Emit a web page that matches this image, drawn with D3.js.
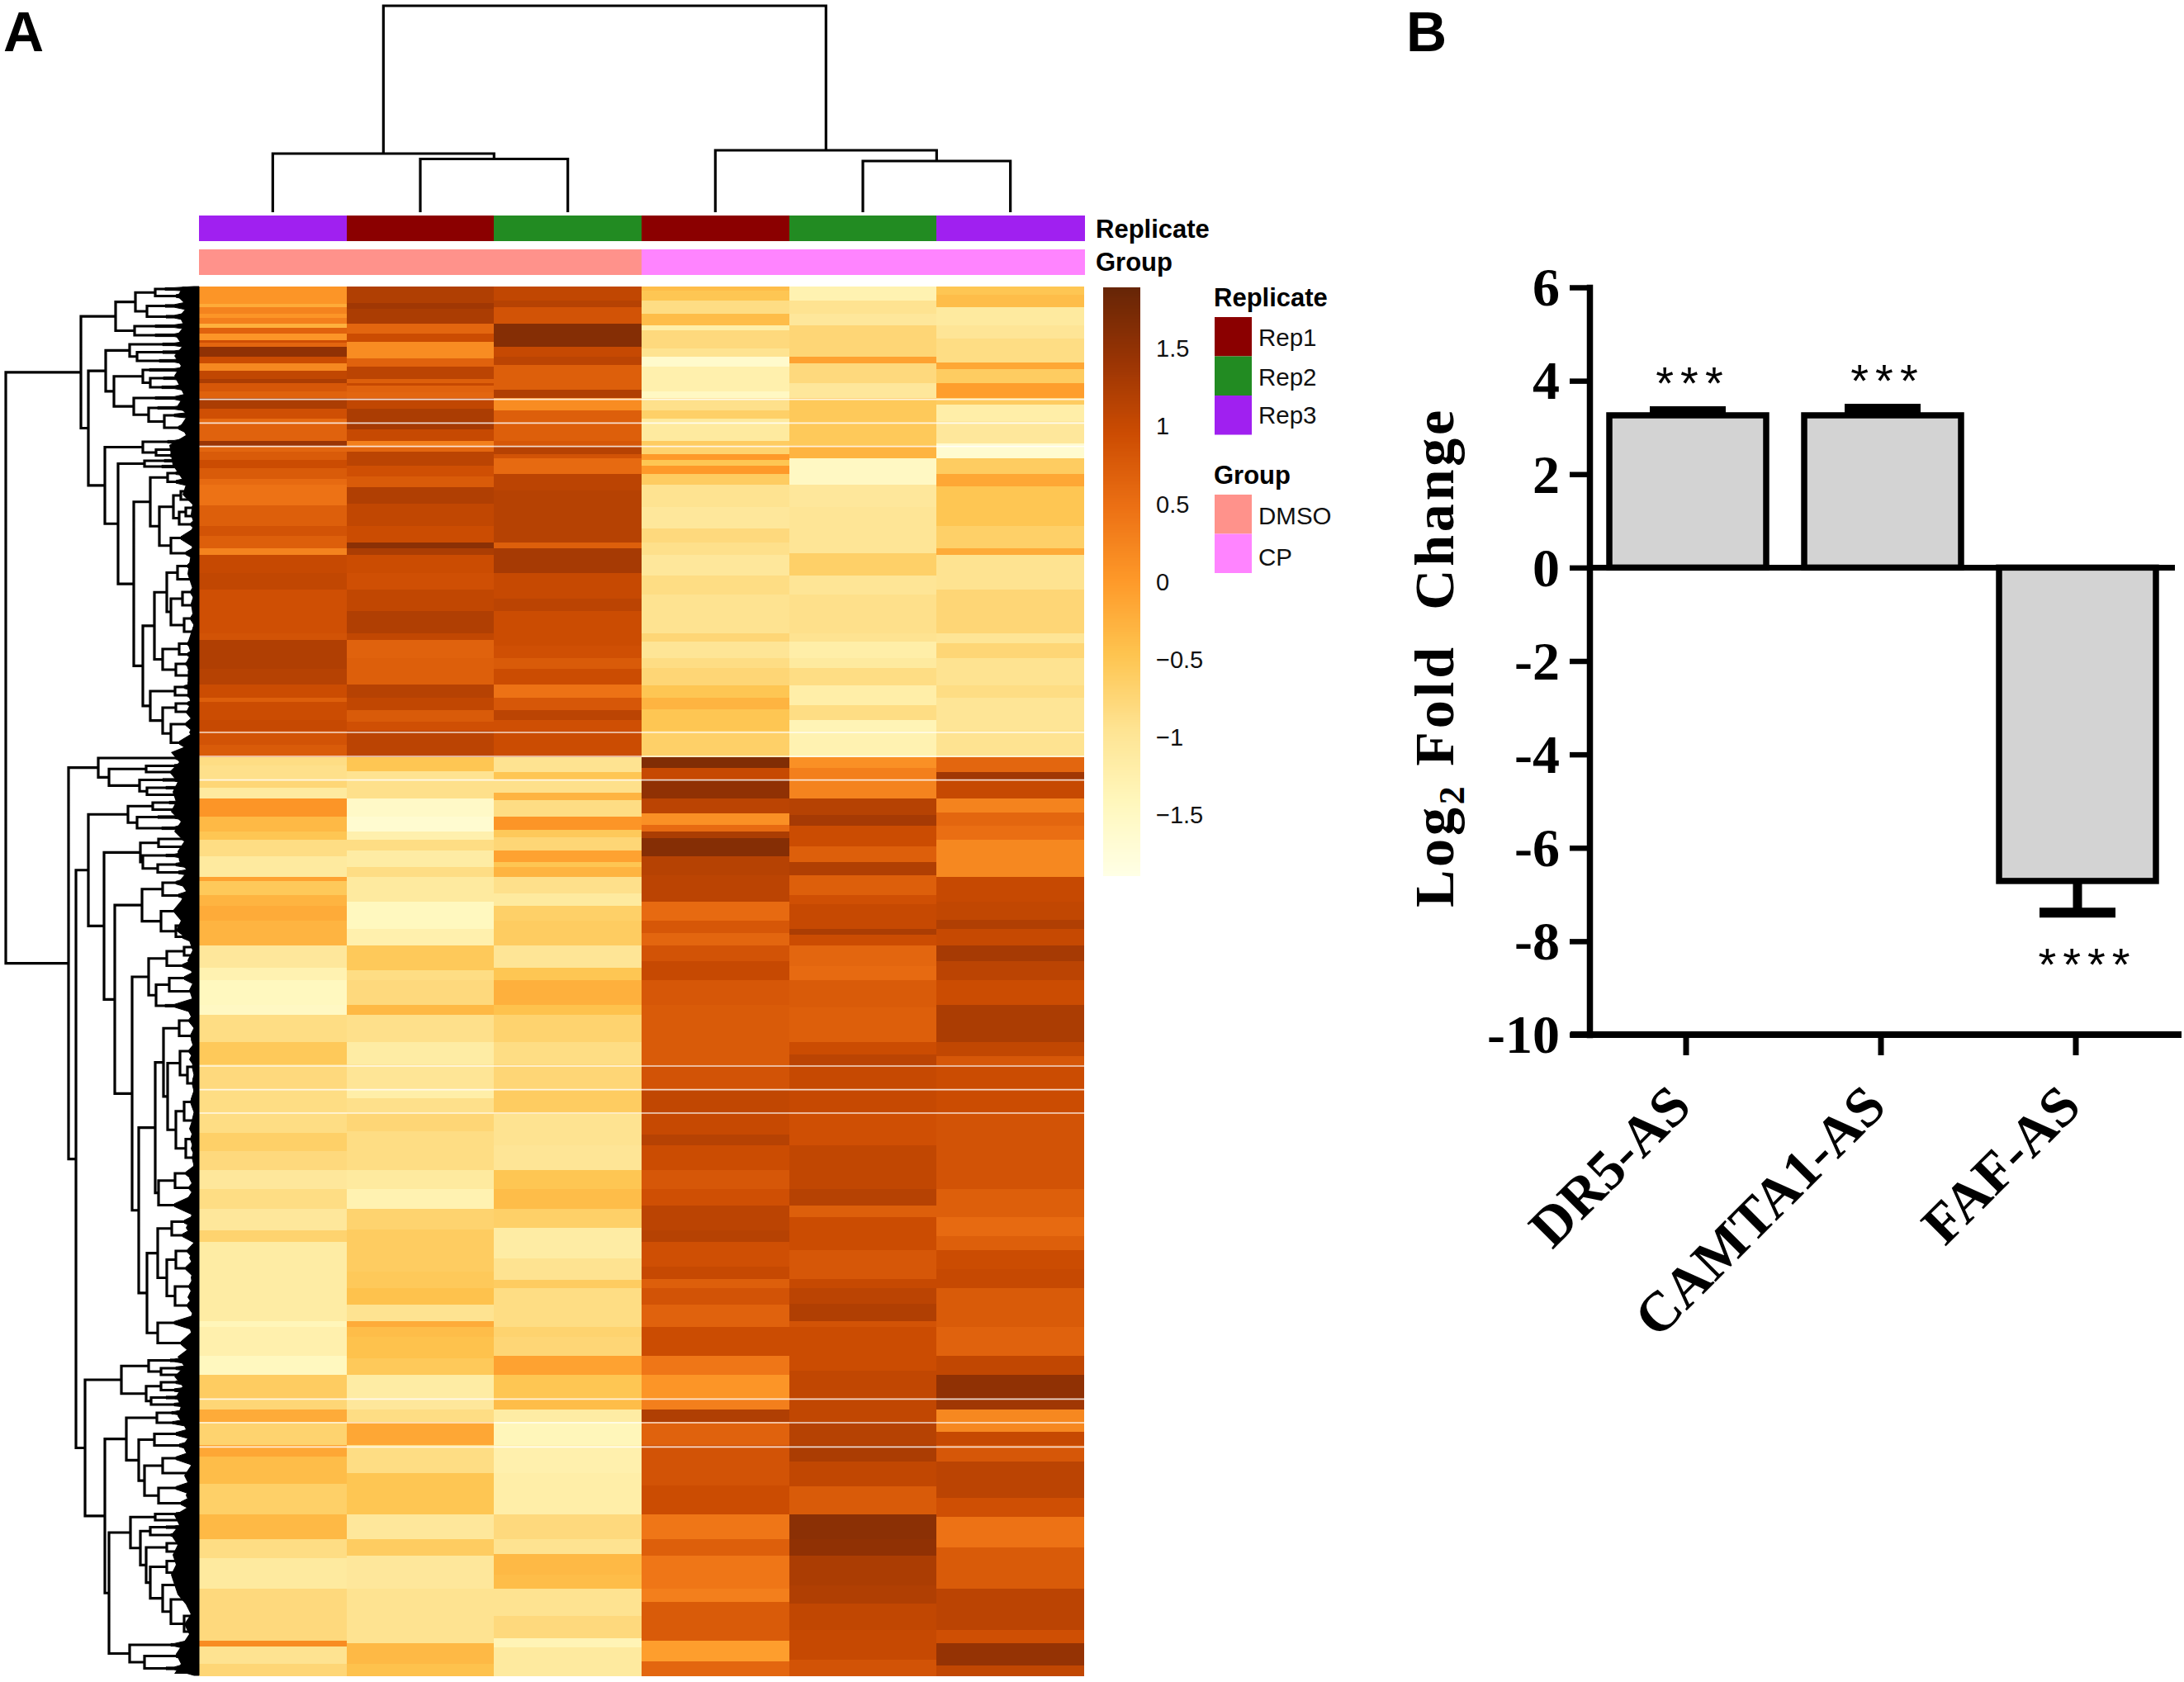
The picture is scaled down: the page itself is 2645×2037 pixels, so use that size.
<!DOCTYPE html>
<html>
<head>
<meta charset="utf-8">
<script src="https://cdn.jsdelivr.net/npm/d3@7"></script>
<style>
  body { margin: 0; background: #fff; }
  text { font-family: "Liberation Sans", Arial, sans-serif; }
  .serif text, text.serif { font-family: "Liberation Serif", "Times New Roman", serif; font-weight: bold; }
</style>
</head>
<body>
<div id="chart"></div>
<script>
// Panel A: columns of the heatmap
var columns = ["DMSO_Rep3", "DMSO_Rep1", "DMSO_Rep2", "CP_Rep1", "CP_Rep2", "CP_Rep3"];
var replicateOf = ["Rep3", "Rep1", "Rep2", "Rep1", "Rep2", "Rep3"];
var groupOf = ["DMSO", "DMSO", "DMSO", "CP", "CP", "CP"];
var replicates = ["Rep1", "Rep2", "Rep3"];
var replicateColors = ["#8B0000", "#228B22", "#A020F0"];
var groups = ["DMSO", "CP"];
var groupColors = ["#FF928B", "#FF84FF"];
var legendTicks = [1.5, 1, 0.5, 0, -0.5, -1, -1.5];
var heatDomain = [-1.89, -1.4175, -0.945, -0.4725, 0, 0.4725, 0.945, 1.4175, 1.89];
var heatColors = ["#FFFFE5", "#FFF7BC", "#FEE391", "#FEC44F", "#FE9929", "#EC7014", "#CC4C02", "#993404", "#662506"];

// Heatmap strips: [end of band, z score], one list per quarter of the rows
var blockStart = [0, 1260, 2520, 3780];
var totalRows = 5046;
var col1 = [
  [[62,.05],[75,-.2],[100,.25],[115,.05],[135,.3],[150,-.25],[170,.65],[195,.05],[205,.9],[220,.6],[255,1.5],[280,.95],[305,.2],[335,1.05],[352,1.25],[380,.8],[405,.65],[445,1.25],[480,.9],[495,.55],[560,.65],[580,1.4],[600,.6],[630,.75],[660,.95],[700,.75],[720,.55],[795,.45],[870,.7],[905,.85],[950,.7],[975,.25],[1040,1],[1100,1.05],[1260,.9]],
  [[25,.85],[90,1.2],[130,1.2],[185,1.15],[235,.95],[250,.7],[315,.95],[355,1],[405,.85],[450,.75],[480,-.85],[530,-.9],[560,-.75],[600,-1.1],[665,.05],[720,-.35],[750,-.5],[810,-.85],[885,-1.1],[900,-.1],[950,-.55],[990,-.3],[1045,-.2],[1135,-.3],[1215,-1.05],[1260,-1.3]],
  [[90,-1.45],[125,-1.5],[225,-.85],[305,-.55],[400,-.8],[480,-.85],[555,-.85],[620,-.65],[690,-.8],[760,-1.05],[830,-.85],[910,-1.05],[950,-.7],[1120,-1.15],[1240,-1.15],[1260,-1.4]],
  [[105,-1.25],[175,-1.45],[260,-.6],[300,-.75],[345,-.2],[430,-.7],[470,-.15],[570,-.4],[680,-.65],[770,-.35],[840,-.85],[950,-1.1],[1140,-.8],[1160,.15],[1225,-.95],[1266,-.75]]
];
var col2 = [
  [[60,1.2],[80,1.35],[135,1.25],[170,.6],[200,.95],[260,.15],[290,.65],[335,1.1],[352,.7],[360,1],[385,.65],[405,.6],[445,1.05],[490,1.25],[520,1.3],[560,1],[580,.3],[600,.6],[650,1.1],[690,.9],[730,.75],[790,1.2],[870,1.05],[930,.95],[950,1.55],[975,1.25],[1040,.95],[1100,.9],[1180,1.05],[1260,1.2]],
  [[25,1.05],[90,.65],[185,.7],[235,1.15],[280,1.05],[320,.75],[355,.9],[450,1.1],[500,-.5],[530,-.95],[600,-.9],[665,-1.55],[720,-1.65],[750,-1.25],[790,-.85],[850,-1.15],[885,-.85],[975,-1.1],[1075,-1.45],[1135,-1.25],[1225,-.55],[1260,-.85]],
  [[90,-.8],[125,-.35],[225,-.9],[305,-1.15],[400,-1],[430,-1.2],[480,-.9],[550,-.75],[690,-.85],[760,-1.1],[830,-1.3],[905,-.7],[1060,-.6],[1120,-.55],[1180,-.45],[1240,-.95],[1260,-.2]],
  [[35,-.4],[115,-.45],[175,-.55],[260,-1.15],[300,-1.05],[345,-.85],[430,-.15],[530,-.85],[680,-.5],[770,-1.05],[830,-.6],[950,-1.05],[1150,-.95],[1225,-.35],[1266,-.45]]
];
var col3 = [
  [[50,1.05],[75,1.15],[135,.85],[220,1.6],[255,1],[285,1.1],[375,.7],[405,1.2],[450,.15],[490,.7],[560,.7],[580,.8],[610,1.15],[625,.85],[680,.55],[740,1.1],[930,1.15],[950,.7],[1040,1.3],[1135,1],[1180,1.1],[1260,.95]],
  [[45,.95],[90,.9],[130,.75],[185,.95],[235,.45],[280,.8],[315,1.1],[355,.9],[450,.95],[505,-.95],[530,-.5],[580,-.9],[605,-.3],[665,-.85],[715,.05],[740,-.55],[790,-.75],[830,-.1],[850,-.5],[885,-.3],[945,-.9],[990,-1.1],[1045,-.65],[1135,-.6],[1215,-1],[1260,-.5]],
  [[90,-.25],[125,-.45],[225,-.7],[305,-.85],[400,-.75],[485,-.6],[600,-.95],[690,-1],[760,-.5],[830,-.4],[900,-.65],[1010,-1.15],[1090,-.95],[1120,-.6],[1260,-.85]],
  [[35,-.7],[105,-.75],[175,-.1],[260,-.5],[300,-.4],[345,-1.15],[430,-1.4],[530,-1.25],[680,-1.2],[770,-.8],[825,-.95],[900,-.35],[950,-.4],[1050,-.95],[1130,-.8],[1165,-1.35],[1266,-1.1]]
];
var col4 = [
  [[15,-.4],[50,-.5],[100,-.85],[140,-.4],[160,-1.2],[225,-.8],[255,-.95],[290,-1.6],[380,-1.25],[405,-1.5],[450,-.9],[480,-.65],[560,-1.1],[580,-.6],[610,-.7],[630,0],[650,-.5],[680,0],[720,-.6],[800,-.95],[880,-1.05],[930,-.8],[975,-.9],[1050,-1.05],[1120,-.85],[1260,-.95]],
  [[30,-.75],[90,-1],[125,-.85],[190,-.75],[235,-.5],[275,-.3],[315,-.5],[355,-.5],[450,-.65],[490,1.65],[530,1],[600,1.5],[655,1.1],[695,.1],[720,.55],[745,1.25],[810,1.6],[880,1.15],[975,1.1],[1045,.55],[1090,.8],[1135,.6],[1190,.85],[1260,1]],
  [[90,.8],[225,.75],[310,.75],[400,.85],[485,1.05],[560,1],[600,1.15],[690,.95],[760,.8],[820,.9],[910,1.1],[950,1.15],[1040,.9],[1085,1],[1120,.7],[1180,.85],[1260,.65]],
  [[105,.95],[175,.4],[260,.05],[300,.3],[345,1.2],[430,.65],[575,.85],[680,.95],[770,.4],[830,.7],[950,.4],[1000,.3],[1140,.75],[1215,-.05],[1266,.6]]
];
var col5 = [
  [[50,-1.3],[100,-.95],[140,-1.05],[180,-.75],[255,-.75],[280,-.1],[350,-.8],[405,-1.05],[490,-.55],[580,-.55],[625,-.3],[720,-1.5],[800,-1.05],[970,-1],[1050,-.65],[1120,-1],[1260,-.9]],
  [[30,-.95],[90,-1.2],[125,-1.1],[190,-.85],[260,-1.2],[315,-.85],[355,-1.35],[450,-1.3],[490,.1],[530,.3],[600,.25],[660,1.15],[700,1.3],[775,.95],[830,.7],[880,1.2],[950,.7],[985,.9],[1075,1],[1095,1.25],[1135,.95],[1210,.6],[1260,.55]],
  [[100,.75],[170,.7],[225,.7],[270,.95],[310,1.1],[400,1],[480,1],[600,.9],[690,1.05],[760,1.05],[820,1.15],[860,.7],[980,.95],[1085,.8],[1120,1],[1175,1.1],[1240,1.2],[1260,.85]],
  [[160,.95],[250,1.05],[345,1.05],[430,1.15],[490,1.25],[580,1.05],[680,.75],[770,1.55],[830,1.5],[940,1.25],[1005,1.2],[1100,1.05],[1210,1],[1266,.85]]
];
var col6 = [
  [[30,-.5],[75,-.4],[140,-1.1],[190,-1],[275,-.85],[300,-.15],[350,-.6],[405,-.05],[430,-.6],[490,-1.2],[570,-1.05],[625,-1.65],[680,-.6],[725,-.15],[870,-.5],[950,-.65],[975,-.2],[1100,-.95],[1260,-.75]],
  [[35,-1],[90,-.75],[190,-.95],[235,-.85],[350,-1],[450,-.95],[505,.6],[530,1.35],[600,1],[650,.25],[700,.6],[750,.5],[800,.2],[885,.2],[975,1],[1040,1.05],[1075,1.2],[1135,1],[1190,1.3],[1260,1.1]],
  [[90,.95],[175,1.25],[225,1.25],[275,1.05],[310,.8],[480,.95],[760,.85],[860,.7],[930,.55],[980,.7],[1050,.95],[1120,1],[1260,.75]],
  [[105,.65],[175,1.05],[260,1.5],[300,1.35],[380,.2],[430,1],[490,.8],[620,1.1],[690,.9],[800,.45],[950,.75],[1100,1.1],[1150,.9],[1230,1.45],[1266,1.05]]
];
var heatStrips = [col1, col2, col3, col4, col5, col6];
var blankRows = [410, 496, 581, 1620, 1707, 1793, 2832, 2918, 3003, 4042, 4128, 4216];

// Column dendrogram: [height, childA, childB], a leaf is [0, column index]
var colTree = [100,
  [28.4, [0, 0], [25.8, [0, 1], [0, 2]]],
  [30, [0, 3], [24.8, [0, 4], [0, 5]]]
];

// Row dendrogram: [height, childA, childB], a leaf cluster is [height, first row, last row]
var rowTreeA = [101,
  [77, [53, [41, 0, 6], [28, 6, 17]], [63, [41, 17, 30], [40, 30, 43]]],
  [78, [53, 43, 53], [53, 53, 65]]
];
var rowTreeB1 = [113,
  [84, [44, 65, 75], [75, [44, 75, 84], [48, 84, 96]]],
  [103,
    [68, [60, 96, 106], [59, [43, 106, 116], [45, 116, 128]]],
    [79, [53, 128, 142], [61, [50, 142, 152], [42, [30, 152, 160], [25, 160, 182]]]]
  ]
];
var rowTreeB2 = [114,
  [68, [38, 182, 194], [52, [32, 194, 201], [35, 201, 208]]],
  [98,
    [66, [42, 208, 214], [45, 214, 222]],
    [79,
      [59,
        [38, [28, 222, 230], [28, 230, 243]],
        [48,
          [31, [22, [12, 243, 253], [10, 253, 263]], [24, [16, [8, 263, 273], [8, 273, 283]], [10, 283, 293]]],
          [34, [22, 293, 316], [16, 316, 330]]
        ]
      ],
      [68,
        [54,
          [39, [26, [14, 330, 347], [10, 347, 362]], [34, [20, [10, 362, 378], [8, 378, 394]], [18, [10, 394, 410], [8, 410, 426]]]],
          [44, [24, [14, 426, 439], [14, 439, 452]], [28, [16, 452, 462], [12, [8, 462, 471], [6, 471, 480]]]]
        ],
        [59,
          [29, [18, 480, 490], [14, 490, 500]],
          [44, [28, [14, 500, 510], [12, 510, 520]], [34, [16, 520, 540], [24, 540, 565]]]
        ]
      ]
    ]
  ]
];
var rowTreeC = [122, [28, 565, 577],
  [109, [64, [30, 577, 584], [27, 584, 592]], [72, [44, 592, 603], [63, [40, 603, 611], [30, 611, 620]]]]
];
var rowTreeD1a = [86, [56, [36, 620, 630], [32, 630, 637]], [75, [50, 637, 648], [45, 648, 664]]];
var rowTreeD1b1 = [71, [49, [20, 664, 674], [14, 674, 683]], [68, [40, 683, 695], [50, [28, 695, 705], [25, 705, 714]]]];
var rowTreeE = [69,
  [44, [28, 714, 730], [25, 730, 745]],
  [46, [22, 745, 768], [28, [14, 768, 780], [20, 780, 795]]]
];
var rowTreeF1 = [61,
  [39, [18, [8, 795, 805], [6, 805, 815]], [20, 815, 830]],
  [52, [36, [18, 830, 845], [8, 845, 862]], [41, 862, 880]]
];
var rowTreeF2a = [53,
  [43,
    [24, [12, 880, 898], [10, 898, 917]],
    [38,
      [23, [12, 917, 935], [14, [8, 935, 955], [8, 955, 975]]],
      [28, [18, [10, 975, 1000], [8, 1000, 1020]], [16, [10, 1020, 1045], [8, 1045, 1065]]]
    ]
  ],
  [49, [29, [16, 1065, 1083], [12, 1083, 1100]], [30, 1100, 1125]]
];
var rowTreeF2b = [63,
  [50,
    [33, [18, 1125, 1140], [20, 1140, 1158]],
    [39, [28, [14, 1158, 1178], [16, 1178, 1200]], [29, [12, 1200, 1222], [14, 1222, 1246]]]
  ],
  [50, [30, 1246, 1264], [22, 1264, 1295]]
];
var rowTreeG = [94,
  [61, [35, 1295, 1306], [46, [28, 1306, 1314], [25, 1314, 1322]]],
  [64, [46, [28, 1322, 1332], [30, 1332, 1341]], [58, [40, 1341, 1350], [30, 1350, 1358]]]
];
var rowTreeH1 = [88,
  [51, [33, 1358, 1370], [32, 1370, 1382]],
  [73,
    [54, [28, 1382, 1397], [24, 1397, 1410]],
    [66, [44, [28, 1410, 1428], [14, 1428, 1446]], [49, [28, 1446, 1464], [22, 1464, 1483]]]
  ]
];
var rowTreeI = [83,
  [53, [28, 1483, 1490], [25, 1490, 1498]],
  [71,
    [59, [40, 1498, 1507], [34, 1507, 1517]],
    [64,
      [39, [20, 1517, 1527], [20, 1527, 1537]],
      [59, [39, [24, 1537, 1550], [18, 1550, 1565]], [44, [28, 1565, 1580], [34, [12, 1580, 1600], [18, [10, 1600, 1620], [10, 1620, 1638]]]]]
    ]
  ]
];
var rowTreeJ = [84, [34, 1638, 1652], [66, [28, 1652, 1665], [40, 1665, 1682]]];
var rowTree = [234,
  [143, rowTreeA, [134, rowTreeB1, rowTreeB2]],
  [158, rowTreeC,
    [149,
      [134, rowTreeD1a,
        [115, rowTreeD1b1,
          [102, rowTreeE,
            [81, [61, rowTreeF1[1], rowTreeF1[2]], [73, rowTreeF2a, rowTreeF2b]]
          ]
        ]
      ],
      [138, rowTreeG, [114, rowTreeH1, [109, rowTreeI, rowTreeJ]]]
    ]
  ]
];
// How far the solid black of the gene leaves reaches left, one value per 12 rows
var leafDepth = [20,26,14,24,18,28,20,30,22,30,24,18,26,14,22,16,36,34,32,24,16,20,
  8,10,6,12,8,10,12,14,10,6,10,8,6,10,14,10,16,12,14,14,10,16,6,12,4,
  34,24,36,26,32,28,34,22,30,18,26,24,14,24,16,22,32,22,28,
  12,8,14,10,6,12,8,14,8,4,10,6,12,4,8,6,10,4,8,12,6,10,4,8,
  12,6,14,8,10,16,8,4,12,6,10,8,14,6,10,12,8,10,
  26,18,30,20,28,22,26,18,12,20,14,10,18,12,16,10,
  30,24,34,26,32,28,34,30,26,16,10,18,12,20,28,22,30];

// Panel B
var genes = ["DR5-AS", "CAMTA1-AS", "FAF-AS"];
var foldChange = [3.26, 3.26, -6.71];
var errorEnd = [3.35, 3.40, -7.39];
var stars = ["***", "***", "****"];
var yTicks = [6, 4, 2, 0, -2, -4, -6, -8, -10];

var w = 2645, h = 2037;
var svg = d3.select("#chart").append("svg")
  .attr("width", w).attr("height", h)
  .style("display", "block");

// Scales of panel A
var xHeat = d3.scaleBand().domain(columns).range([241, 1313]);
var yHeat = d3.scaleLinear().domain([0, totalRows]).range([347, 2029]);
var color = d3.scaleLinear().domain(heatDomain).range(heatColors);
var yTreeRow = d3.scaleLinear().domain([0, 1682]).range([347, 2029]);
var xTreeH = d3.scaleLinear().domain([0, 241]).range([241, 0]);
var yColH = d3.scaleLinear().domain([0, 100]).range([257, 7]);
var yLegend = d3.scaleLinear().domain([-1.89, 1.89]).range([1060, 347.6]);

// Heatmap bands
var heat = svg.append("g").attr("shape-rendering", "crispEdges");
heatStrips.forEach(function(strip, c) {
  strip.forEach(function(block, b) {
    var start = blockStart[b];
    block.forEach(function(band, i) {
      var from = start + (i ? block[i - 1][0] : 0);
      var to = start + band[0];
      heat.append("rect")
        .attr("x", xHeat(columns[c]))
        .attr("width", xHeat.bandwidth())
        .attr("y", yHeat(from))
        .attr("height", yHeat(to) - yHeat(from) + 0.5)
        .attr("fill", color(band[1]));
    });
  });
});
svg.selectAll(".blank").data(blankRows).join("line")
  .attr("class", "blank")
  .attr("x1", 241).attr("x2", 1313)
  .attr("y1", d => yHeat(d)).attr("y2", d => yHeat(d))
  .attr("stroke", "#fff").attr("stroke-opacity", 0.8).attr("stroke-width", 1.7);

// Annotation bars
var replicateColor = d3.scaleOrdinal().domain(replicates).range(replicateColors);
var groupColor = d3.scaleOrdinal().domain(groups).range(groupColors);
var ann = svg.append("g").attr("shape-rendering", "crispEdges");
ann.selectAll(".annRep").data(columns).join("rect")
  .attr("class", "annRep")
  .attr("x", d => xHeat(d)).attr("width", xHeat.bandwidth() + 0.5)
  .attr("y", 261).attr("height", 31)
  .attr("fill", (d, i) => replicateColor(replicateOf[i]));
ann.selectAll(".annGrp").data(columns).join("rect")
  .attr("class", "annGrp")
  .attr("x", d => xHeat(d)).attr("width", xHeat.bandwidth() + 0.5)
  .attr("y", 302).attr("height", 31)
  .attr("fill", (d, i) => groupColor(groupOf[i]));
svg.append("text").attr("x", 1327).attr("y", 288).attr("font-size", 31).attr("font-weight", "bold").text("Replicate");
svg.append("text").attr("x", 1327).attr("y", 328).attr("font-size", 31).attr("font-weight", "bold").text("Group");

// Dendrograms
function isLeaf(d) { return typeof d[1] === "number"; }
function buildTree(data, leafPos) {
  var root = d3.hierarchy(data, d => isLeaf(d) ? null : d.slice(1));
  root.eachAfter(function(n) {
    n.h = n.data[0];
    n.pos = n.children ? d3.mean(n.children, c => c.pos) : leafPos(n.data);
  });
  return root;
}

var colRoot = buildTree(colTree, d => xHeat(columns[d[1]]) + xHeat.bandwidth() / 2);
svg.append("path")
  .attr("fill", "none").attr("stroke", "#000").attr("stroke-width", 3.2)
  .attr("d", colRoot.descendants().filter(n => n.children).map(function(n) {
    var a = n.children[0], b = n.children[1];
    return "M" + a.pos + "," + yColH(a.h) + "V" + yColH(n.h) + "H" + b.pos + "V" + yColH(b.h);
  }).join(""));

var rowRoot = buildTree(rowTree, d => (d[1] + d[2]) / 2);
var rowDendro = svg.append("g");
rowDendro.append("path")
  .attr("fill", "none").attr("stroke", "#000").attr("stroke-width", 3.2)
  .attr("d", rowRoot.descendants().filter(n => n.children).map(function(n) {
    var a = n.children[0], b = n.children[1];
    return "M" + xTreeH(a.h) + "," + yTreeRow(a.pos) + "H" + xTreeH(n.h) + "V" + yTreeRow(b.pos) + "H" + xTreeH(b.h);
  }).join(""));
// leaf clusters fan out to the heatmap edge
var fanStart = 30, solidDepth = 6;
rowDendro.selectAll(".cluster").data(rowRoot.leaves()).join("path")
  .attr("class", "cluster")
  .attr("fill", "#000").attr("stroke", "#000").attr("stroke-width", 1)
  .attr("d", function(n) {
    var top = n.data[1], bot = n.data[2], s = Math.min(n.h, fanStart);
    var x0 = xTreeH(n.h), xs = xTreeH(s), xm = xTreeH(Math.min(s, solidDepth)), xe = xTreeH(0);
    var y = yTreeRow(n.pos);
    return "M" + x0 + "," + (y - 1.6) + "L" + xs + "," + (y - 1.6) +
      "L" + xm + "," + yTreeRow(top) + "L" + xe + "," + yTreeRow(top) +
      "L" + xe + "," + yTreeRow(bot) + "L" + xm + "," + yTreeRow(bot) +
      "L" + xs + "," + (y + 1.6) + "L" + x0 + "," + (y + 1.6) + "Z";
  });
// the mass of single gene leaves, with its jagged left edge
rowDendro.append("path")
  .datum(leafDepth)
  .attr("fill", "#000")
  .attr("d", d3.area()
    .x0(xTreeH(0))
    .x1(d => xTreeH(d))
    .y((d, i) => yTreeRow(Math.min(i * 12, 1682))));

// Colour bar
var legendSteps = d3.range(-1.89, 1.89, 0.01);
svg.append("g").attr("shape-rendering", "crispEdges")
  .selectAll("rect").data(legendSteps).join("rect")
  .attr("x", 1336).attr("width", 45)
  .attr("y", d => yLegend(d + 0.01)).attr("height", d => yLegend(d) - yLegend(d + 0.01) + 0.5)
  .attr("fill", d => color(d));
svg.selectAll(".legTick").data(legendTicks).join("text")
  .attr("class", "legTick")
  .attr("x", 1400).attr("y", d => yLegend(d) + 11)
  .attr("font-size", 29).attr("fill", "#111")
  .text(d => String(d).replace("-", "\u2212"));

// Discrete legends
function discreteLegend(title, names, colors, titleY, top, labelY) {
  svg.append("text").attr("x", 1470).attr("y", titleY).attr("font-size", 31).attr("font-weight", "bold").text(title);
  names.forEach(function(name, i) {
    svg.append("rect").attr("x", 1471).attr("width", 45)
      .attr("y", top + i * 47.5).attr("height", 47.5).attr("fill", colors[i]);
    svg.append("text").attr("x", 1524).attr("y", labelY[i]).attr("font-size", 29.5).attr("fill", "#111").text(name);
  });
}
discreteLegend("Replicate", replicates, replicateColors, 371, 384, [419, 467, 513]);
discreteLegend("Group", groups, groupColors, 586, 599, [635, 685]);

// Panel letters
svg.append("text").attr("x", 4).attr("y", 62).attr("font-size", 68).attr("font-weight", "bold").text("A");
svg.append("text").attr("x", 1703).attr("y", 62).attr("font-size", 68).attr("font-weight", "bold").text("B");

// Panel B scales
var xBar = d3.scaleBand().domain(genes).range([1926, 2634]).paddingInner(0.195).paddingOuter(0.0975);
var yBar = d3.scaleLinear().domain([-10, 6]).range([1253, 348]);

// Error bars go under the bars
genes.forEach(function(g, i) {
  var cx = xBar(g) + xBar.bandwidth() / 2;
  svg.append("line").attr("x1", cx).attr("x2", cx)
    .attr("y1", yBar(foldChange[i])).attr("y2", yBar(errorEnd[i]))
    .attr("stroke", "#000").attr("stroke-width", 11);
  svg.append("line").attr("x1", cx - 46).attr("x2", cx + 46)
    .attr("y1", yBar(errorEnd[i])).attr("y2", yBar(errorEnd[i]))
    .attr("stroke", "#000").attr("stroke-width", 12);
});

svg.selectAll(".bar").data(genes).join("rect")
  .attr("class", "bar")
  .attr("x", d => xBar(d))
  .attr("width", xBar.bandwidth())
  .attr("y", (d, i) => yBar(Math.max(foldChange[i], 0)))
  .attr("height", (d, i) => Math.abs(yBar(foldChange[i]) - yBar(0)))
  .attr("fill", "#D3D3D3").attr("stroke", "#000").attr("stroke-width", 7.5);

// Zero line
svg.append("line").attr("x1", 1925).attr("x2", 2634)
  .attr("y1", yBar(0)).attr("y2", yBar(0))
  .attr("stroke", "#000").attr("stroke-width", 7);

// Axes
var yAxis = d3.axisLeft(yBar).tickValues(yTicks).tickFormat(d => String(d)).tickSize(24).tickPadding(12).tickSizeOuter(0);
var yG = svg.append("g").attr("class", "serif").attr("transform", "translate(1925,0)").call(yAxis);
yG.select(".domain").attr("stroke-width", 7.5).attr("stroke-linecap", "square");
yG.selectAll(".tick line").attr("stroke-width", 6.5);
yG.selectAll(".tick text").attr("font-size", 66).attr("dy", "0.33em").attr("fill", "#000");

var xAxis = d3.axisBottom(xBar).tickSize(25).tickSizeOuter(0);
var xG = svg.append("g").attr("class", "serif").attr("transform", "translate(-2,1253)").call(xAxis);
xG.select(".domain").remove();
xG.selectAll(".tick line").attr("stroke-width", 7);
xG.selectAll(".tick text")
  .attr("font-size", 68).attr("text-anchor", "end").attr("fill", "#000")
  .attr("y", 0).attr("dy", 0)
  .attr("transform", "translate(9,90) rotate(-45)");
svg.append("line").attr("x1", 1902).attr("x2", 2642)
  .attr("y1", 1253).attr("y2", 1253)
  .attr("stroke", "#000").attr("stroke-width", 8);

// Significance stars
svg.selectAll(".stars").data(genes).join("text")
  .attr("class", "stars")
  .attr("x", (d, i) => xBar(d) + xBar.bandwidth() / 2 + (i === 2 ? 12 : 6))
  .attr("y", (d, i) => foldChange[i] > 0 ? yBar(errorEnd[i]) - 15 : yBar(errorEnd[i]) + 82)
  .attr("text-anchor", "middle")
  .attr("font-family", "Liberation Serif").attr("font-size", 56).attr("letter-spacing", 8)
  .text((d, i) => stars[i]);

// Y label with subscript
var yLabel = svg.append("text").attr("class", "serif")
  .attr("transform", "translate(1760,796) rotate(-90)")
  .attr("text-anchor", "middle").attr("font-size", 68).attr("letter-spacing", 3.8);
yLabel.append("tspan").text("Log");
yLabel.append("tspan").attr("font-size", 44).attr("dy", 13).text("2");
yLabel.append("tspan").attr("dy", -13).text("\u00a0Fold\u00a0\u00a0Change");
</script>
</body>
</html>
